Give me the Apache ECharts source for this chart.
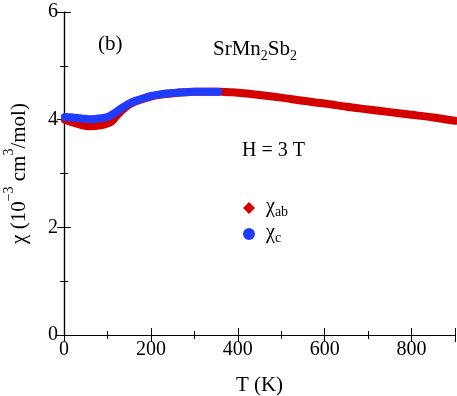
<!DOCTYPE html>
<html>
<head>
<meta charset="utf-8">
<script src="https://cdn.jsdelivr.net/npm/echarts@6/dist/echarts.min.js"></script>
<style>html,body{margin:0;padding:0;background:#fff}#c{width:457px;height:396px}</style>
</head>
<body>
<div id="c"></div>
<script>
var xTicks = [0, 200, 400, 600, 800];
var yTicks = [0, 2, 4, 6];
var abT = [2, 20, 40, 60, 80, 100, 110, 120, 130, 140, 150, 165, 180, 200, 220, 240, 260, 280, 300, 320, 340, 360, 380, 400, 450, 500, 550, 600, 650, 700, 750, 800, 850, 900];
var abV = [4.00, 3.95, 3.90, 3.88, 3.89, 3.93, 3.97, 4.06, 4.15, 4.22, 4.28, 4.34, 4.38, 4.43, 4.46, 4.48, 4.50, 4.51, 4.52, 4.52, 4.52, 4.52, 4.51, 4.50, 4.46, 4.41, 4.35, 4.30, 4.24, 4.19, 4.14, 4.09, 4.04, 3.98];
var cT = [2, 20, 40, 60, 80, 100, 110, 120, 130, 140, 150, 165, 180, 200, 220, 240, 260, 280, 300, 320, 340, 355];
var cV = [4.05, 4.04, 4.02, 4.01, 4.02, 4.05, 4.09, 4.14, 4.20, 4.25, 4.30, 4.35, 4.39, 4.44, 4.47, 4.49, 4.50, 4.51, 4.52, 4.52, 4.52, 4.52];

var FONT = 'Liberation Serif';
var RED = '#d40000', BLUE = '#1f3cff';
function pairs(t, v) { return t.map(function (x, i) { return [x, v[i]]; }); }

var chart = echarts.init(document.getElementById('c'), null, {renderer: 'canvas'});
var axisLine = {show: true, lineStyle: {color: '#000', width: 1.2}};
var tickCommon = {show: true, inside: true, length: 7, lineStyle: {color: '#000', width: 1}};
var minorCommon = {show: true, splitNumber: 2, length: 4, lineStyle: {color: '#000', width: 1}};

chart.setOption({
  animation: false,
  textStyle: {fontFamily: FONT, color: '#000'},
  grid: {left: 64, right: 2, top: 12, bottom: 61, containLabel: false, outerBoundsMode: 'none'},
  xAxis: [{
    type: 'value', min: 0, max: 900, interval: 200,
    axisLine: axisLine, axisTick: tickCommon, minorTick: minorCommon,
    splitLine: {show: false},
    axisLabel: {show: true, fontFamily: FONT, fontSize: 20, color: '#000', margin: 5, showMaxLabel: false,
      formatter: function (v) { return xTicks.indexOf(v) >= 0 ? String(v) : ''; }},
    name: 'T (K)', nameLocation: 'middle', nameGap: 40,
    nameTextStyle: {fontFamily: FONT, fontSize: 21, color: '#000'}
  }, {
    type: 'value', min: 0, max: 900, interval: 200, position: 'top',
    axisLine: axisLine, axisTick: tickCommon, minorTick: minorCommon,
    splitLine: {show: false}, axisLabel: {show: false}
  }],
  yAxis: [{
    type: 'value', min: 0, max: 6, interval: 2,
    axisLine: axisLine, axisTick: tickCommon, minorTick: minorCommon,
    splitLine: {show: false},
    axisLabel: {show: true, fontFamily: FONT, fontSize: 20, color: '#000', margin: 6,
      formatter: function (v) { return yTicks.indexOf(v) >= 0 ? String(v) : ''; }},
    name: '{n|χ (10}{sup|−3}{n| cm}{sup|3}{n|/mol)}', nameLocation: 'middle', nameGap: 34,
    nameTextStyle: {fontFamily: FONT, fontSize: 21, color: '#000',
      rich: {
        n: {fontFamily: FONT, fontSize: 21, color: '#000', lineHeight: 28, verticalAlign: 'bottom'},
        sup: {fontFamily: FONT, fontSize: 14, color: '#000', lineHeight: 28, verticalAlign: 'top'}
      }}
  }, {
    type: 'value', min: 0, max: 6, interval: 2, position: 'right',
    axisLine: axisLine, axisTick: tickCommon, minorTick: minorCommon,
    splitLine: {show: false}, axisLabel: {show: false}
  }],
  legend: {
    orient: 'vertical', left: 243, top: 197, itemGap: 4, itemWidth: 12, itemHeight: 12,
    padding: 0, selectedMode: false,
    data: [{name: 'ab', icon: 'diamond'}, {name: 'c', icon: 'circle'}],
    formatter: function (n) { return '{a|χ}{s|' + n + '}'; },
    textStyle: {fontFamily: FONT, fontSize: 20, color: '#000',
      rich: {
        a: {fontFamily: FONT, fontSize: 20, color: '#000', lineHeight: 22, verticalAlign: 'top', padding: [0, 0, 0, 6]},
        s: {fontFamily: FONT, fontSize: 14, color: '#000', lineHeight: 22, verticalAlign: 'bottom'}
      }}
  },
  series: [{
    name: 'ab', type: 'line', data: pairs(abT, abV), smooth: 0.3,
    showSymbol: false, symbol: 'diamond', itemStyle: {color: RED},
    lineStyle: {color: RED, width: 8, cap: 'round', join: 'round'}, z: 2
  }, {
    name: 'c', type: 'line', data: pairs(cT, cV), smooth: 0.3,
    showSymbol: false, symbol: 'circle', itemStyle: {color: BLUE},
    lineStyle: {color: BLUE, width: 8, cap: 'round', join: 'round'}, z: 3
  }],
  graphic: [
    {type: 'text', left: 98, top: 34, style: {text: '(b)', font: '21px "Liberation Serif"', fill: '#000'}},
    {type: 'text', left: 213, top: 39, style: {
      text: '{n|SrMn}{s|2}{n|Sb}{s|2}', fill: '#000',
      rich: {
        n: {fontFamily: FONT, fontSize: 21, lineHeight: 24, verticalAlign: 'top'},
        s: {fontFamily: FONT, fontSize: 14, lineHeight: 24, verticalAlign: 'bottom'}
      }}},
    {type: 'text', left: 242, top: 141, style: {text: 'H = 3 T', font: '20px "Liberation Serif"', fill: '#000'}}
  ]
});
</script>
</body>
</html>
